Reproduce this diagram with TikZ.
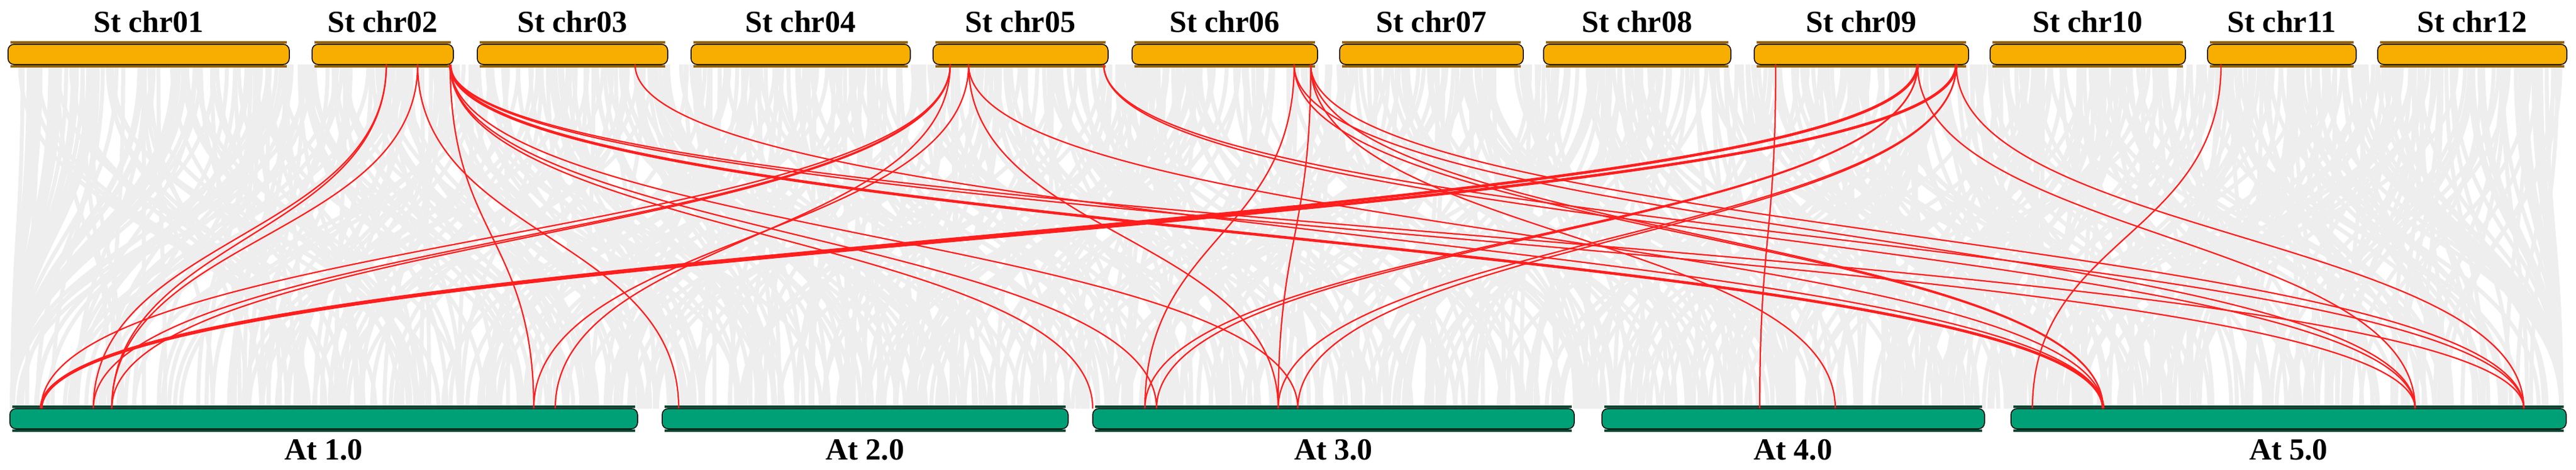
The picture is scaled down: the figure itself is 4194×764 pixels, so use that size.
\documentclass[tikz,border=0pt]{standalone}
\usepackage{fontspec}
\setmainfont{Liberation Serif}
\usetikzlibrary{calc}
\definecolor{stbar}{RGB}{247,174,0}
\definecolor{stedge}{RGB}{150,100,0}
\definecolor{atbar}{RGB}{0,160,118}
\definecolor{atedge}{RGB}{0,70,50}
\definecolor{bgline}{RGB}{238,238,238}
\definecolor{hilink}{RGB}{255,30,30}

\tikzset{every picture/.style={line width=0.75pt}}
\tikzset{
  stchr/.style={fill=stbar,draw=black,line width=0.3pt,rounded corners=2pt,minimum height=6.6pt,inner sep=0pt},
  atchr/.style={fill=atbar,draw=black,line width=0.3pt,rounded corners=2pt,minimum height=6.6pt,inner sep=0pt},
  chrlab/.style={font=\fontsize{10}{12}\selectfont\bfseries},
  bgsyn/.style={draw=bgline,line width=1.3pt},
  syn/.style={draw=hilink,line width=0.45pt},
  synbold/.style={draw=hilink,line width=0.9pt}
}
\newcommand{\synlink}[3][syn]{\draw[#1] (#2) .. controls ($(#2)+(0,280)$) and ($(#3)+(0,-280)$) .. (#3);}

\begin{document}
\begin{tikzpicture}[x=0.2pt,y=0.2pt,yscale=-1,xscale=1]
\useasboundingbox (0,0) rectangle (4194,764);

%background collinear pairs
\pgfmathsetseed{4711}
\foreach \i in {1,...,900}{
  \pgfmathsetmacro\xa{20+rnd*4150}
  \pgfmathsetmacro\xb{max(20,min(4170,\xa+(rnd-0.5)*1100))}
  \draw[bgsyn] (\xa,105) .. controls (\xa,385) and (\xb,385) .. (\xb,665);
}

%Potato chromosomes
\foreach \nm/\xa/\xb/\lab in {s1/13/471/01,s2/508/738/02,s3/777/1087/03,s4/1125/1482/04,s5/1519/1804/05,s6/1843/2145/06,s7/2181/2480/07,s8/2513/2818/08,s9/2856/3205/09,s10/3240/3558/10,s11/3594/3836/11,s12/3871/4179/12}{
  \node[stchr,minimum width={(\xb-\xa)*0.2pt}] (\nm) at ({(\xa+\xb)/2},88.5) {};
  \draw[stedge,line width=0.8pt] ([xshift=1pt,yshift=-0.5pt]\nm.north west) -- ([xshift=-1pt,yshift=-0.5pt]\nm.north east);
  \draw[stedge,line width=0.8pt] ([xshift=1pt,yshift=0.5pt]\nm.south west) -- ([xshift=-1pt,yshift=0.5pt]\nm.south east);
  \node[chrlab] at ({(\xa+\xb)/2},35) {St chr\lab};
}

%Arabidopsis chromosomes
\foreach \nm/\xa/\xb/\lab in {a1/16/1038/1.0,a2/1078/1739/2.0,a3/1779/2563/3.0,a4/2608/3231/4.0,a5/3274/4178/5.0}{
  \node[atchr,minimum width={(\xb-\xa)*0.2pt}] (\nm) at ({(\xa+\xb)/2},681.5) {};
  \draw[atedge,line width=0.8pt] ([xshift=1pt,yshift=-0.5pt]\nm.north west) -- ([xshift=-1pt,yshift=-0.5pt]\nm.north east);
  \draw[atedge,line width=0.8pt] ([xshift=1pt,yshift=0.5pt]\nm.south west) -- ([xshift=-1pt,yshift=0.5pt]\nm.south east);
  \node[chrlab] at ({(\xa+\xb)/2},732) {At \lab};
}

%gene positions
\foreach \nm/\x in {tA/629,tB/680,tC/733,tD/1034,tE/1547,tF/1577,tG/1797,tH/2107,tI/2134,tJ/2891,tK/3122,tL/3185,tM/3616}
  \coordinate (\nm) at (\x,105);
\foreach \nm/\x in {b1/67,b2/152,b3/182,b4/869,b5/904,b6/1105,b7/1779,b8/1864,b9/1883,b10/2081,b11/2113,b12/2865,b13/2988,b14/3309,b15/3424,b16/3932,b17/4109}
  \coordinate (\nm) at (\x,665);

%segmental pairs
\synlink{tA}{b2}
\synlink{tA}{b3}
\synlink{tB}{b3}
\synlink{tB}{b6}
\synlink{tC}{b4}
\synlink{tC}{b7}
\synlink[synbold]{tC}{b15}
\synlink{tC}{b16}
\synlink{tC}{b17}
\synlink{tC}{b11}
\synlink{tC}{b9}
\synlink{tD}{b15}
\synlink{tE}{b1}
\synlink{tE}{b2}
\synlink{tE}{b3}
\synlink{tE}{b5}
\synlink{tF}{b4}
\synlink{tF}{b10}
\synlink{tF}{b15}
\synlink{tG}{b16}
\synlink{tG}{b17}
\synlink{tH}{b8}
\synlink{tH}{b15}
\synlink{tH}{b16}
\synlink{tI}{b10}
\synlink{tI}{b13}
\synlink{tI}{b17}
\synlink{tI}{b15}
\synlink{tJ}{b12}
\synlink[synbold]{tK}{b1}
\synlink[synbold]{tL}{b1}
\synlink{tK}{b9}
\synlink{tK}{b8}
\synlink{tL}{b11}
\synlink{tL}{b10}
\synlink{tK}{b16}
\synlink{tL}{b17}
\synlink{tM}{b14}

\end{tikzpicture}
\end{document}
